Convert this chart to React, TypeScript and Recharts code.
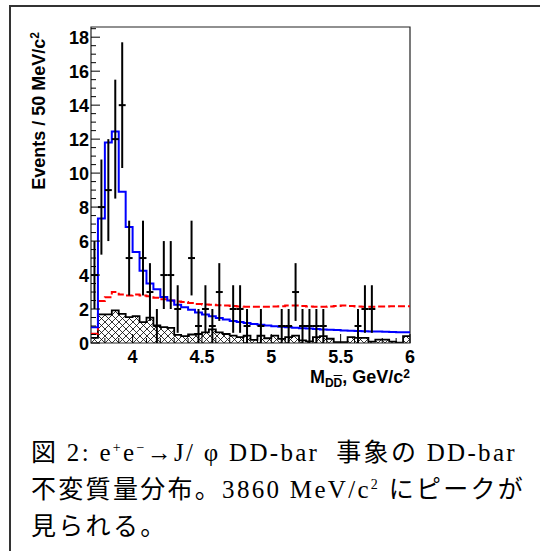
import { ComposedChart, Line, Area, Scatter, ErrorBar, XAxis, YAxis, ReferenceArea } from "recharts";

// 50 MeV bins from 3.70 to 6.00 GeV/c^2
const binStart = 3.7;
const binWidth = 0.05;

// total fit (blue)
const fitTotal = [
  0.93, 7.33, 11.8, 12.45, 8.9, 6.83, 5.35, 4.26, 3.5, 3.17, 2.71, 2.5, 2.25, 2.1, 1.95, 1.8,
  1.68, 1.57, 1.47, 1.38, 1.3, 1.23, 1.17, 1.12, 1.07, 1.03, 0.99, 0.96, 0.93, 0.9, 0.87, 0.85,
  0.82, 0.8, 0.78, 0.76, 0.74, 0.72, 0.71, 0.69, 0.68, 0.67, 0.66, 0.65, 0.64, 0.63,
];

// background fit (red dashed)
const fitBkg = [
  0.55, 2.47, 2.7, 3.0, 2.85, 2.8, 2.85, 2.8, 2.75, 2.67, 2.57, 2.5, 2.45, 2.41, 2.36, 2.3,
  2.27, 2.25, 2.22, 2.2, 2.18, 2.15, 2.14, 2.13, 2.13, 2.13, 2.15, 2.17, 2.2, 2.2, 2.18, 2.15,
  2.13, 2.13, 2.15, 2.18, 2.2, 2.18, 2.15, 2.14, 2.14, 2.15, 2.15, 2.16, 2.16, 2.16,
];

// sideband background (hatched)
const sideband = [
  0.3, 1.68, 1.68, 1.92, 1.72, 1.52, 1.58, 1.23, 1.49, 1.03, 0.93, 0.89, 0.48, 0.4, 0.5, 0.53,
  0.63, 0.8, 0.63, 0.53, 0.44, 0.34, 0.44, 0.18, 0.44, 0.28, 0.44, 0.24, 0.34, 0.44, 0.15, 0.1,
  0.35, 0.4, 0.25, 0.05, 0.05, 0.35, 0.3, 0.3, 0.08, 0.2, 0.2, 0.08, 0.02, 0.4,
];

// data points and their errors
const counts = [
  4, 8, 9, 12, 14, 5, 0, 5, 3, 1, 4, 4, 2, 0, 5, 1,
  2, 1, 3, 0, 2, 2, 1, 0, 1, 0, 0, 1, 1, 3, 1, 1,
  1, 1, 0, 0, 0, 0, 1, 2, 2, 0, 0, 0, 0, 0,
];
const countErr = [
  2, 2.8, 3, 3.5, 3.7, 2.2, 0, 2.2, 1.7, 1, 2, 2, 1.4, 0, 2.2, 1,
  1.4, 1, 1.7, 0, 1.4, 1.4, 1, 0, 1, 0, 0, 1, 1, 1.7, 1, 1,
  1, 1, 0, 0, 0, 0, 1, 1.4, 1.4, 0, 0, 0, 0, 0,
];

const xTicks = [
  3.8, 3.9, 4, 4.1, 4.2, 4.3, 4.4, 4.5, 4.6, 4.7, 4.8, 4.9, 5, 5.1, 5.2, 5.3, 5.4, 5.5, 5.6,
  5.7, 5.8, 5.9, 6,
];
const yTicks = [
  0, 0.5, 1, 1.5, 2, 2.5, 3, 3.5, 4, 4.5, 5, 5.5, 6, 6.5, 7, 7.5, 8, 8.5, 9, 9.5, 10, 10.5, 11,
  11.5, 12, 12.5, 13, 13.5, 14, 14.5, 15, 15.5, 16, 16.5, 17, 17.5, 18, 18.5,
];

const rows = Array.from({ length: fitTotal.length + 1 }, (_, i) => {
  const k = Math.min(i, fitTotal.length - 1);
  return { x: +(binStart + i * binWidth).toFixed(3), total: fitTotal[k], bkg: fitBkg[k], side: sideband[k] };
});

const points = counts
  .map((n, i) => ({ x: binStart + (i + 0.5) * binWidth, n, ey: countErr[i], ex: binWidth / 2 }))
  .filter((p) => p.n > 0);

const axisFont = '"Liberation Sans", Arial, Helvetica, sans-serif';

const isStep = (v: number, s: number) => Math.abs(v / s - Math.round(v / s)) < 1e-6;

const XTick = (props: any) => {
  const { x, y, payload } = props;
  const axisY = y - 4;
  const major = isStep(payload.value, 0.5);
  return (
    <g>
      <line x1={x} x2={x} y1={axisY} y2={axisY - (major ? 9 : 5)} stroke="#000" strokeWidth={1} />
      {major && (
        <text x={x} y={axisY + 20} textAnchor="middle" fontFamily={axisFont} fontWeight="bold" fontSize={18} fill="#000">
          {String(payload.value)}
        </text>
      )}
    </g>
  );
};

const YTick = (props: any) => {
  const { x, y, payload } = props;
  const axisX = x + 3;
  const major = isStep(payload.value, 2);
  return (
    <g>
      <line x1={axisX} x2={axisX + (major ? 9 : 5)} y1={y} y2={y} stroke="#000" strokeWidth={1} />
      {major && (
        <text x={axisX - 2} y={y + 6.5} textAnchor="end" fontFamily={axisFont} fontWeight="bold" fontSize={18} fill="#000">
          {String(payload.value)}
        </text>
      )}
    </g>
  );
};

const sup = { fontSize: 14, lineHeight: 0 };

export default function App() {
  return (
    <div style={{ position: "absolute", left: 0, top: 0, width: 540, height: 551, overflow: "hidden", background: "#fff" }}>
      <div
        style={{
          position: "absolute",
          left: 9,
          top: 5,
          width: 560,
          height: 570,
          borderTop: "2px solid #333",
          borderLeft: "2px solid #333",
        }}
      />
      <ComposedChart
        width={540}
        height={400}
        data={rows}
        margin={{ top: 27, right: 130, bottom: 27, left: 51 }}
        style={{ position: "absolute", left: 0, top: 0 }}
      >
        <defs>
          <pattern id="hatch" patternUnits="userSpaceOnUse" width={7} height={7}>
            <path d="M0,0 L7,7 M7,0 L0,7" stroke="#000" strokeWidth={0.8} />
          </pattern>
        </defs>
        <XAxis
          dataKey="x"
          type="number"
          domain={[3.7, 6]}
          allowDataOverflow
          ticks={xTicks}
          interval={0}
          tickSize={0}
          tickMargin={4}
          tickLine={false}
          axisLine={false}
          height={30}
          tick={<XTick />}
        />
        <YAxis
          type="number"
          domain={[0, 18.6]}
          allowDataOverflow
          ticks={yTicks}
          interval={0}
          tickSize={0}
          tickMargin={3}
          tickLine={false}
          axisLine={false}
          width={40}
          tick={<YTick />}
        />
        <Area
          type="stepAfter"
          dataKey="side"
          stroke="#000"
          strokeWidth={1.8}
          fill="url(#hatch)"
          fillOpacity={1}
          isAnimationActive={false}
          dot={false}
          activeDot={false}
        />
        <Line
          type="stepAfter"
          dataKey="bkg"
          stroke="#ff0000"
          strokeWidth={2}
          strokeDasharray="7 3"
          dot={false}
          activeDot={false}
          isAnimationActive={false}
        />
        <Line
          type="stepAfter"
          dataKey="total"
          stroke="#0000ff"
          strokeWidth={2}
          dot={false}
          activeDot={false}
          isAnimationActive={false}
        />
        <Scatter data={points} dataKey="n" isAnimationActive={false} shape={() => <g />}>
          <ErrorBar dataKey="ey" direction="y" width={0} stroke="#000" strokeWidth={2} />
          <ErrorBar dataKey="ex" direction="x" width={0} stroke="#000" strokeWidth={2} />
        </Scatter>
        <ReferenceArea x1={3.7} x2={6} y1={0} y2={18.6} fill="none" stroke="#222" strokeWidth={1.2} ifOverflow="visible" />
      </ComposedChart>

      <div
        style={{
          position: "absolute",
          left: 39,
          top: 32,
          transformOrigin: "0 0",
          transform: "rotate(-90deg) translate(-100%, -50%)",
          whiteSpace: "nowrap",
          fontFamily: axisFont,
          fontWeight: "bold",
          fontSize: 18,
          lineHeight: "20px",
          color: "#000",
        }}
      >
        Events / 50 MeV/c<sup style={{ fontSize: 12, verticalAlign: "6px", lineHeight: 0 }}>2</sup>
      </div>

      <div
        style={{
          position: "absolute",
          right: 130,
          top: 368,
          whiteSpace: "nowrap",
          fontFamily: axisFont,
          fontWeight: "bold",
          fontSize: 18,
          lineHeight: "18px",
          color: "#000",
        }}
      >
        M
        <sub style={{ fontSize: 12, lineHeight: 0, verticalAlign: "-4px" }}>
          D<span style={{ textDecoration: "overline" }}>D</span>
        </sub>
        , GeV/c<sup style={{ fontSize: 12, verticalAlign: "5px", lineHeight: 0 }}>2</sup>
      </div>

      <div
        style={{
          position: "absolute",
          left: 31,
          top: 434,
          whiteSpace: "pre",
          fontFamily: '"Liberation Serif", "Noto Sans CJK JP", serif',
          fontSize: 25,
          letterSpacing: 2.3,
          lineHeight: "37px",
          color: "#000",
        }}
      >
        図 2: e<sup style={sup}>+</sup>e<sup style={sup}>−</sup>→J/ φ DD-bar  事象の DD-bar
        <br />
        不変質量分布。3860 MeV/c<sup style={sup}>2</sup> にピークが
        <br />
        見られる。
      </div>
    </div>
  );
}
